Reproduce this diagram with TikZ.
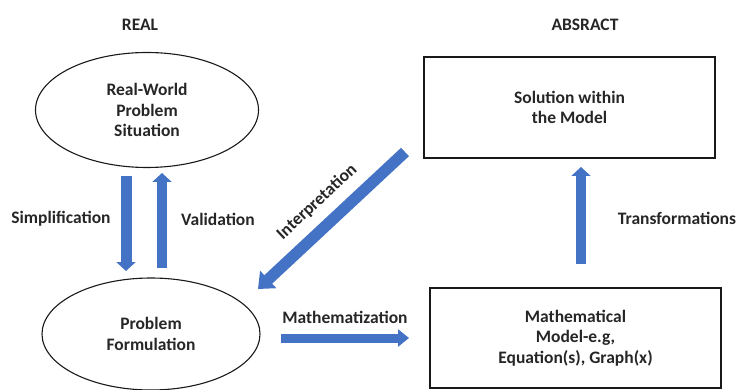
\documentclass[tikz,border=0pt]{standalone}
\usepackage{fontspec}
\setmainfont{Carlito}
\usetikzlibrary{shapes.geometric,arrows.meta}
\definecolor{arrowblue}{RGB}{68,114,196}
\tikzset{
  lbl/.style={font=\bfseries\fontsize{17.5}{20.5}\selectfont, text=black!85, align=center, inner sep=0pt},
  oval/.style={ellipse, draw=black!90, line width=1.1pt, lbl},
  boxnode/.style={rectangle, draw=black!90, line width=1.1pt, lbl},
  bigarrow/.style={draw=arrowblue, line width=#1, -{Triangle[width=19pt,length=9pt]}},
  bigarrow/.default=10.5pt
}
\begin{document}
\begin{tikzpicture}[x=1pt,y=-1pt]
  \useasboundingbox (0,0) rectangle (739,390);

  % column headings
  \node[lbl] (hreal) at (140,25) {REAL};
  \node[lbl] (habs)  at (585,25) {ABSRACT};

  % the four stages of the modelling cycle
  \node[oval, minimum width=223pt, minimum height=115pt] (situation) at (147,110)
    {Real-World\\Problem\\Situation};
  \node[oval, minimum width=218pt, minimum height=112pt] (formulation) at (151,334)
    {Problem\\Formulation};
  \node[boxnode, minimum width=291pt, minimum height=101pt] (solution) at (569.5,107.5)
    {Solution within\\the Model};
  \node[boxnode, minimum width=291pt, minimum height=100pt] (model) at (575.5,338)
    {Mathematical\\Model-e.g,\\Equation(s), Graph(x)};

  % arrow end points
  \coordinate (simpA) at (126,176);
  \coordinate (simpB) at (126,271);
  \coordinate (valA)  at (162,268);
  \coordinate (valB)  at (162,173);
  \coordinate (intA)  at (405,152);
  \coordinate (intB)  at (258,289);
  \coordinate (matA)  at (281,338);
  \coordinate (matB)  at (409,338);
  \coordinate (trA)   at (581,264);
  \coordinate (trB)   at (581,167);

  % connectors
  \draw[bigarrow=11pt] (simpA) -- (simpB);
  \draw[bigarrow=10pt] (valA) -- (valB);
  \draw[bigarrow=11.5pt, -{Triangle[width=23pt,length=14pt]}] (intA) -- (intB);
  \draw[bigarrow=9pt, -{Triangle[width=17pt,length=11pt]}] (matA) -- (matB);
  \draw[bigarrow=10pt] (trA) -- (trB);

  % connector labels
  \node[lbl] (lsimp) at (61,219) {Simplification};
  \node[lbl] (lval)  at (218,219) {Validation};
  \node[lbl, rotate=43] (lint) at (317,202) {Interpretation};
  \node[lbl] (lmat)  at (345,317) {Mathematization};
  \node[lbl] (ltr)   at (677,218) {Transformations};
\end{tikzpicture}
\end{document}
